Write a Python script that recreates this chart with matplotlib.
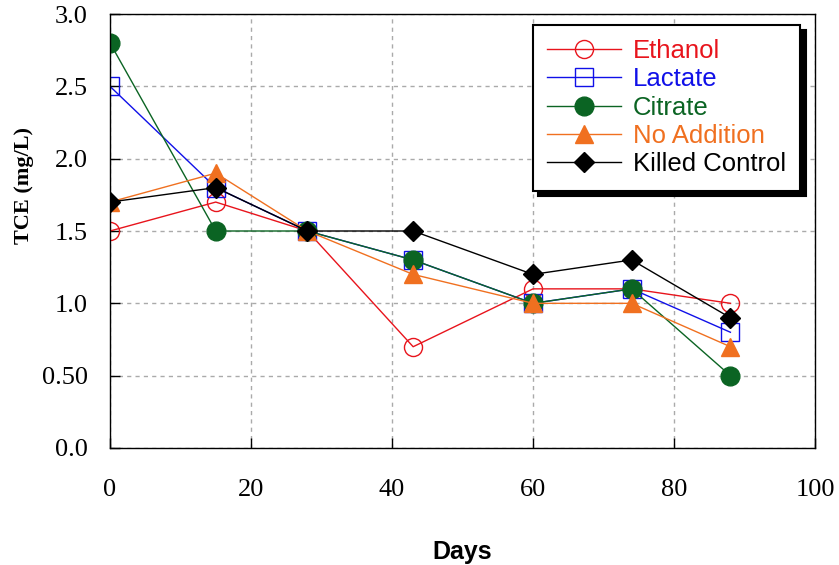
import matplotlib
matplotlib.use("Agg")
import matplotlib.pyplot as plt

days = [0, 15, 28, 43, 60, 74, 88]
ethanol = [1.5, 1.7, 1.5, 0.7, 1.1, 1.1, 1.0]
lactate = [2.5, 1.8, 1.5, 1.3, 1.0, 1.1, 0.8]
citrate = [2.8, 1.5, 1.5, 1.3, 1.0, 1.1, 0.5]
no_addition = [1.7, 1.9, 1.5, 1.2, 1.0, 1.0, 0.7]
killed = [1.7, 1.8, 1.5, 1.5, 1.2, 1.3, 0.9]

y_ticks = [0.0, 0.5, 1.0, 1.5, 2.0, 2.5, 3.0]
y_tick_labels = ["0.0", "0.50", "1.0", "1.5", "2.0", "2.5", "3.0"]
x_ticks = [0, 20, 40, 60, 80, 100]

fig = plt.figure(figsize=(8.39, 5.65), dpi=100)
ax = fig.add_axes([0.1311, 0.2071, 0.8403, 0.7681])

serif = "Liberation Serif"
sans = "Liberation Sans"

ax.grid(True, color="#aaaaaa", linestyle=(0, (3, 3)), linewidth=1.0)
ax.set_axisbelow(True)

ax.plot(days, ethanol, color="#e8141c", lw=1.0, marker="o", ms=13,
        mfc="none", mec="#e8141c", mew=1.0, label="Ethanol")
ax.plot(days, lactate, color="#1010e8", lw=1.0, marker="s", ms=12.5,
        mfc="none", mec="#1010e8", mew=1.0, label="Lactate")
ax.plot(days, citrate, color="#0b6423", lw=1.0, marker="o", ms=13.5,
        mfc="#0b6423", mec="#0b6423", label="Citrate")
ax.plot(days, no_addition, color="#f07020", lw=1.0, marker="^", ms=13,
        mfc="#f07020", mec="#f07020", label="No Addition")
ax.plot(days, killed, color="black", lw=1.0, marker="D", ms=10,
        mfc="black", mec="black", label="Killed Control")

ax.set_xlim(0, 100)
ax.set_ylim(0, 3.0)
ax.set_xticks(x_ticks)
ax.set_xticklabels([str(t) for t in x_ticks], fontfamily=serif, fontsize=19)
ax.set_yticks(y_ticks)
ax.set_yticklabels(y_tick_labels, fontfamily=serif, fontsize=19)
ax.tick_params(axis="x", direction="in", length=7, width=1, pad=22)
ax.tick_params(axis="y", direction="in", length=7, width=1, pad=16)
for sp in ax.spines.values():
    sp.set_linewidth(1.0)

ax.set_xlabel("Days", fontfamily=sans, fontweight="bold", fontsize=18)
ax.xaxis.label.set_va("top")
ax.xaxis.set_label_coords(0.5, -0.212)
ax.set_ylabel("TCE (mg/L)", fontfamily=serif, fontweight="bold", fontsize=16)
ax.yaxis.set_label_coords(-0.108, 0.604)

leg = ax.legend(loc="upper right", bbox_to_anchor=(0.979, 0.975),
                prop={"family": sans, "size": 18.5}, fancybox=False,
                framealpha=1, edgecolor="black", handlelength=2.9,
                handletextpad=0.45, labelspacing=0.17, borderpad=0.55,
                borderaxespad=0,
                shadow={"ox": 4, "oy": -4, "facecolor": "black",
                        "edgecolor": "black", "alpha": 1})
leg.get_frame().set_linewidth(1.5)
for text, line in zip(leg.get_texts(), leg.get_lines()):
    text.set_color(line.get_color())

fig.savefig("out.png", dpi=100)
